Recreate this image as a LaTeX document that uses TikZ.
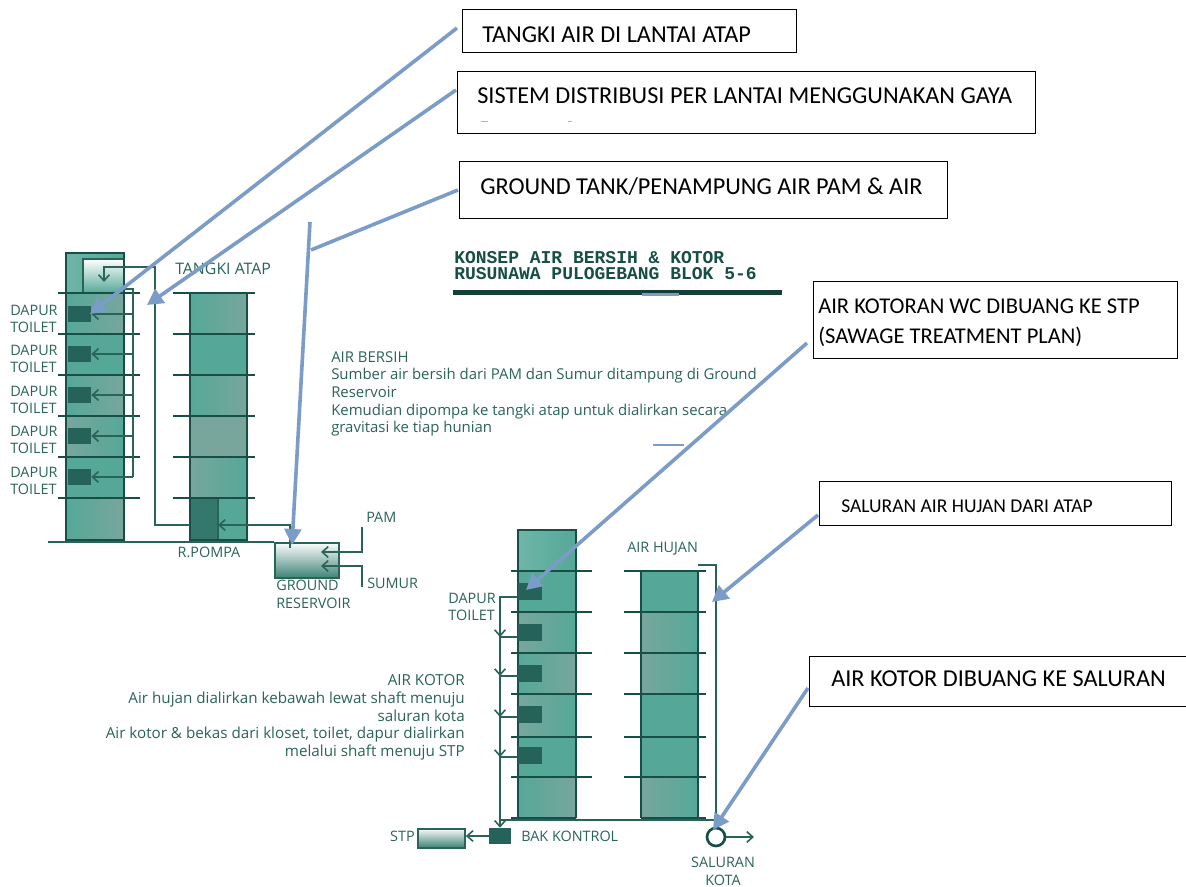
\documentclass[tikz,border=0pt]{standalone}
\usepackage{fontspec}
\usetikzlibrary{arrows.meta,calc}
\newfontfamily\dgmf{Open Sans}
\newfontfamily\boxf{Carlito}
\newfontfamily\ttlf{Liberation Mono}
\definecolor{tealdark}{HTML}{174F46}
\definecolor{tealink}{HTML}{2A6459}
\definecolor{tealmain}{HTML}{55A898}
\definecolor{tealgray}{HTML}{78A69D}
\definecolor{tealblock}{HTML}{24625A}
\definecolor{callout}{HTML}{7A9CC6}
\def\px{0.75pt}
\tikzset{
 floorline/.style={draw=tealdark,line width=2pt},
 bldg/.style={draw=tealdark,line width=2.2pt},
 pipe/.style={draw=tealink,line width=1.2pt},
 pipearrow/.style={pipe,-{Straight Barb[length=4.5pt,width=8pt]}},
 dark/.style={fill=tealblock,draw=none},
 lbl/.style={font=\dgmf\fontsize{10.8}{12}\selectfont,text=tealink,inner sep=0pt,anchor=west,text height=8pt,text depth=0pt},
 lblr/.style={lbl,anchor=east},
 lblc/.style={lbl,anchor=center},
 para/.style={font=\dgmf\fontsize{11.2}{12}\selectfont,text=tealink,inner sep=0pt,anchor=west,text height=8pt,text depth=2pt},
 parar/.style={para,font=\dgmf\fontsize{11.4}{12}\selectfont,anchor=east},
 title/.style={font=\ttlf\bfseries\fontsize{13.5}{15}\selectfont,text=tealdark,inner sep=0pt,anchor=west},
 infobox/.style={draw=black,line width=1.1pt,fill=white,anchor=north west,inner sep=0pt},
 infotext/.style={font=\boxf\fontsize{18.2}{22}\selectfont,text=black,inner sep=0pt,anchor=west,align=left},
 callarrow/.style={draw=callout,line width=2.7pt,-{Triangle[length=12pt,width=12.5pt]}},
 callline/.style={draw=callout,line width=2.7pt},
}
\begin{document}
\begin{tikzpicture}[x=0.75pt,y=-0.75pt]
\useasboundingbox[fill=white] (0,0) rectangle (1186,887);

% ---------- upper left: building 1
\shade[left color=tealmain!85!white,right color=tealmain] (66,253) rectangle (124,293);
\shade[top color=white,bottom color=tealmain] (83,259) rectangle (124,293);
\draw[pipe,line width=1.5pt] (83,293) -- (83,259) -- (124,259);
\foreach \a/\b/\l/\r in {293/334/tealmain/tealgray,334/375/tealmain/tealmain,375/416/tealmain/tealgray,416/457/tealgray/tealmain,457/498/tealmain/tealmain,498/541/tealmain/tealgray}{
 \shade[left color=\l,right color=\r] (66,\a) rectangle (124,\b);
}
\draw[bldg] (66,541) -- (66,253) -- (124,253) -- (124,541);
% building 2
\foreach \a/\b/\l/\r in {293/334/tealmain/tealgray,334/375/tealmain/tealmain,375/416/tealmain/tealgray,416/457/tealgray/tealgray,457/498/tealgray/tealmain,498/541/tealmain/tealmain}{
 \shade[left color=\l,right color=\r] (190,\a) rectangle (247,\b);
}
\fill[tealblock!70!tealmain] (190,498) rectangle (218,541);
\draw[pipe,line width=1.5pt] (218,498) -- (218,541);
\draw[bldg] (190,541) -- (190,293) -- (247,293) -- (247,541);
\foreach \y in {293,334,375,416,457,498}{
 \draw[floorline] (58,\y) -- (140,\y);
 \draw[floorline] (173,\y) -- (255,\y);
}
\draw[floorline] (66,540) -- (124,540);
\draw[floorline] (190,540) -- (247,540);
\coordinate (gl1) at (48,542);
\coordinate (gl2) at (290,542);
\draw[pipe] (gl1) -- (gl2);
% dark blocks and labels
\foreach \n/\y in {1/314,2/354,3/395,4/436,5/477}{
 \node[dark,minimum width=23*\px,minimum height=16*\px,inner sep=0pt] (ub\n) at (79.5,\y) {};
 \coordinate (rb\n) at (133,\y);
 \draw[pipearrow] (rb\n) -- (ub\n.east);
}
\coordinate (rt0) at (124,289);
\coordinate (rt1) at (133,289);
\draw[pipe] (rt0) -- (rt1) -- (rb5);
% riser
\coordinate (rs0) at (190,525);
\coordinate (rs1) at (155,525);
\coordinate (rs2) at (155,267);
\coordinate (rs3) at (104,267);
\coordinate (rs4) at (104,282);
\draw[pipearrow] (rs0) -- (rs1) -- (rs2) -- (rs3) -- (rs4);
% ground reservoir
\shade[top color=white,bottom color=tealmain!80!black] (274,542) rectangle (338,577);
\node[draw=tealink,line width=1.2pt,anchor=north west,inner sep=0pt,minimum width=64*\px,minimum height=35*\px] (gr) at (274,542) {};
\coordinate (pm1) at (218,525);
\coordinate (pm2) at (290,525);
\coordinate (pm3) at (290,548);
\draw[pipearrow] (pm3) -- (pm2) -- (pm1);
\coordinate (pa1) at (362,527);
\coordinate (pa2) at (362,552);
\coordinate (pa3) at (321,552);
\draw[pipearrow] (pa1) -- (pa2) -- (pa3);
\coordinate (su1) at (362,587);
\coordinate (su2) at (362,566);
\coordinate (su3) at (321,566);
\draw[pipearrow] (su1) -- (su2) -- (su3);
% labels upper left
\foreach \n/\y in {1/310,2/350,3/391,4/431,5/472}{
 \node[lbl] (d\n) at (10,\y) {DAPUR};
 \node[lbl] (t\n) at (10,\y+17) {TOILET};
}
\node[lbl,font=\dgmf\fontsize{11.9}{12}\selectfont] (tangki) at (175,269) {TANGKI ATAP};
\node[lblc] (rpompa) at (209,552) {R.POMPA};
\node[lbl] (pam) at (366,517) {PAM};
\node[lbl] (sumur) at (367,583) {SUMUR};
\node[lbl] (ground) at (276,585) {GROUND};
\node[lbl] (resv) at (276,603) {RESERVOIR};

% ---------- title
\node[title] (t1) at (454,258) {KONSEP AIR BERSIH \& KOTOR};
\node[title] (t2) at (454,274) {RUSUNAWA PULOGEBANG BLOK 5-6};
\fill[tealdark!80!black] (453,290) rectangle (782,295);
\fill[callout] (642,293) rectangle (679,296);
\fill[callout] (653,444) rectangle (684,446);

% ---------- paragraphs
\node[para] (p1) at (331,359) {AIR BERSIH};
\node[para] (p2) at (331,376) {Sumber air bersih dari PAM dan Sumur ditampung di Ground};
\node[para] (p3) at (331,394) {Reservoir};
\node[para] (p4) at (331,412) {Kemudian dipompa ke tangki atap untuk dialirkan secara};
\node[para] (p5) at (331,429) {gravitasi ke tiap hunian};
\node[parar] (k1) at (465,682) {AIR KOTOR};
\node[parar] (k2) at (465,700) {Air hujan dialirkan kebawah lewat shaft menuju};
\node[parar] (k3) at (465,717) {saluran kota};
\node[parar] (k4) at (465,735) {Air kotor \& bekas dari kloset, toilet, dapur dialirkan};
\node[parar] (k5) at (465,752) {melalui shaft menuju STP};

% ---------- lower building 3
\shade[left color=tealmain!85!white,right color=tealmain] (518,530) rectangle (576,571);
\foreach \a/\b/\l/\r in {571/612/tealmain/tealmain,612/653/tealgray/tealmain,653/694/tealmain/tealgray,694/737/tealgray/tealmain,737/777/tealmain/tealmain,777/818/tealmain/tealgray}{
 \shade[left color=\l,right color=\r] (518,\a) rectangle (576,\b);
}
\draw[bldg] (518,818) -- (518,530) -- (576,530) -- (576,818);
% building 4
\foreach \a/\b/\l/\r in {571/612/tealmain/tealmain,612/653/tealgray/tealmain,653/694/tealgray/tealmain,694/737/tealmain/tealmain,737/777/tealmain/tealmain,777/818/tealgray/tealmain}{
 \shade[left color=\l,right color=\r] (641,\a) rectangle (698,\b);
}
\draw[bldg] (641,818) -- (641,571) -- (698,571) -- (698,818);
\foreach \y in {571,612,653,694,737,777}{
 \draw[floorline] (511,\y) -- (592,\y);
 \draw[floorline] (624,\y) -- (706,\y);
}
\draw[floorline] (511,818) -- (576,818);
\draw[floorline] (641,818) -- (706,818);
% blocks and drain
\foreach \n/\y in {1/591.5,2/632.5,3/673.5,4/714.5,5/755.5}{
 \node[dark,minimum width=24*\px,minimum height=17*\px,inner sep=0pt] (lb\n) at (530,\y) {};
}
\coordinate (dr1) at (500,597);
\coordinate (dr2) at (518,597);
\node[dark,minimum width=22*\px,minimum height=16*\px,inner sep=0pt] (bak) at (500,836) {};
\draw[pipearrow] (dr2) -- (dr1) -- (bak.north);
\foreach \n/\y in {2/637,3/676,4/717,5/757}{
 \coordinate (dj\n) at (500,\y);
 \coordinate (dk\n) at (518,\y);
 \draw[pipe] (dk\n) -- (dj\n);
 \draw[pipearrow] ($(dj\n)+(0,-5)$) -- (dj\n);
}
\coordinate (gla) at (500,820);
\coordinate (glb) at (723,820);
\draw[pipe] (gla) -- (glb);
% rain
\node[circle,draw=tealdark,line width=2pt,inner sep=0pt,minimum size=18*\px] (sal) at (716,837) {};
\coordinate (ra1) at (698,565);
\coordinate (ra2) at (716,565);
\draw[pipe] (ra1) -- (ra2) -- (sal.north);
\coordinate (so) at (754,837);
\draw[pipearrow] (sal.east) -- (so);
% STP
\shade[top color=white,bottom color=tealmain!80!black] (417,828) rectangle (464,847);
\node[draw=tealink,line width=1.4pt,anchor=north west,inner sep=0pt,minimum width=47*\px,minimum height=19*\px] (stp) at (417,828) {};
\draw[pipearrow] (bak.west) -- (bak.west -| stp.east);
% labels lower
\node[lblr] (ld) at (496,598) {DAPUR};
\node[lblr] (lt) at (495,615) {TOILET};
\node[lbl] (hujan) at (627,547) {AIR HUJAN};
\node[lblr] (stpl) at (415,836) {STP};
\node[lbl] (bakl) at (521,836) {BAK KONTROL};
\node[lblc] (s1) at (723,862) {SALURAN};
\node[lblc] (s2) at (723,880) {KOTA};

% ---------- info boxes
\node[infobox,minimum width=334*\px,minimum height=43*\px] (b1) at (462,9) {};
\node[infobox,minimum width=578*\px,minimum height=62*\px] (b2) at (457,71) {};
\node[infobox,minimum width=488*\px,minimum height=57*\px] (b3) at (459,161) {};
\node[infobox,minimum width=364*\px,minimum height=77*\px] (b4) at (813,281) {};
\node[infobox,minimum width=352*\px,minimum height=44*\px] (b5) at (819,481) {};
\node[infobox,minimum width=377*\px,minimum height=50*\px] (b6) at (809,656) {};
\node[infotext] (x1) at (482,35) {TANGKI AIR DI LANTAI ATAP};
\node[infotext] (x2) at (477,96) {SISTEM DISTRIBUSI PER LANTAI MENGGUNAKAN GAYA};
\node[infotext] (x3) at (480,187) {GROUND TANK/PENAMPUNG AIR PAM \& AIR};
\node[infotext,font=\boxf\fontsize{16.9}{22.5}\selectfont] (x4) at (818,323) {AIR KOTORAN WC DIBUANG KE STP\\(SAWAGE TREATMENT PLAN)};
\node[infotext,font=\boxf\fontsize{14.65}{16}\selectfont] (x5) at (841,506) {SALURAN AIR HUJAN DARI ATAP};
\node[infotext] (x6) at (831,679) {AIR KOTOR DIBUANG KE SALURAN};
\fill[gray!60] (481,121.5) rectangle (488,122.5);
\fill[gray!60] (568,121.5) rectangle (572,122.5);

% ---------- callouts
\coordinate (c1s) at (457,28);
\coordinate (c1t) at (90,314);
\draw[callarrow] (c1s) -- (c1t);
\coordinate (c2s) at (456,90);
\coordinate (c2t) at (147,305);
\draw[callarrow] (c2s) -- (c2t);
\coordinate (c3s) at (458,190);
\coordinate (c3e) at (311,250);
\draw[callline] (c3s) -- (c3e);
\coordinate (c3a) at (310,222);
\coordinate (c3t) at (292,545);
\draw[callarrow] (c3a) -- (c3t);
\coordinate (c4s) at (807,343);
\coordinate (c4t) at (526,590);
\draw[callarrow] (c4s) -- (c4t);
\coordinate (c5s) at (818,515);
\coordinate (c5t) at (712,602);
\draw[callarrow] (c5s) -- (c5t);
\coordinate (c6s) at (808,688);
\coordinate (c6t) at (713,830);
\draw[callarrow] (c6s) -- (c6t);
\end{tikzpicture}
\end{document}
